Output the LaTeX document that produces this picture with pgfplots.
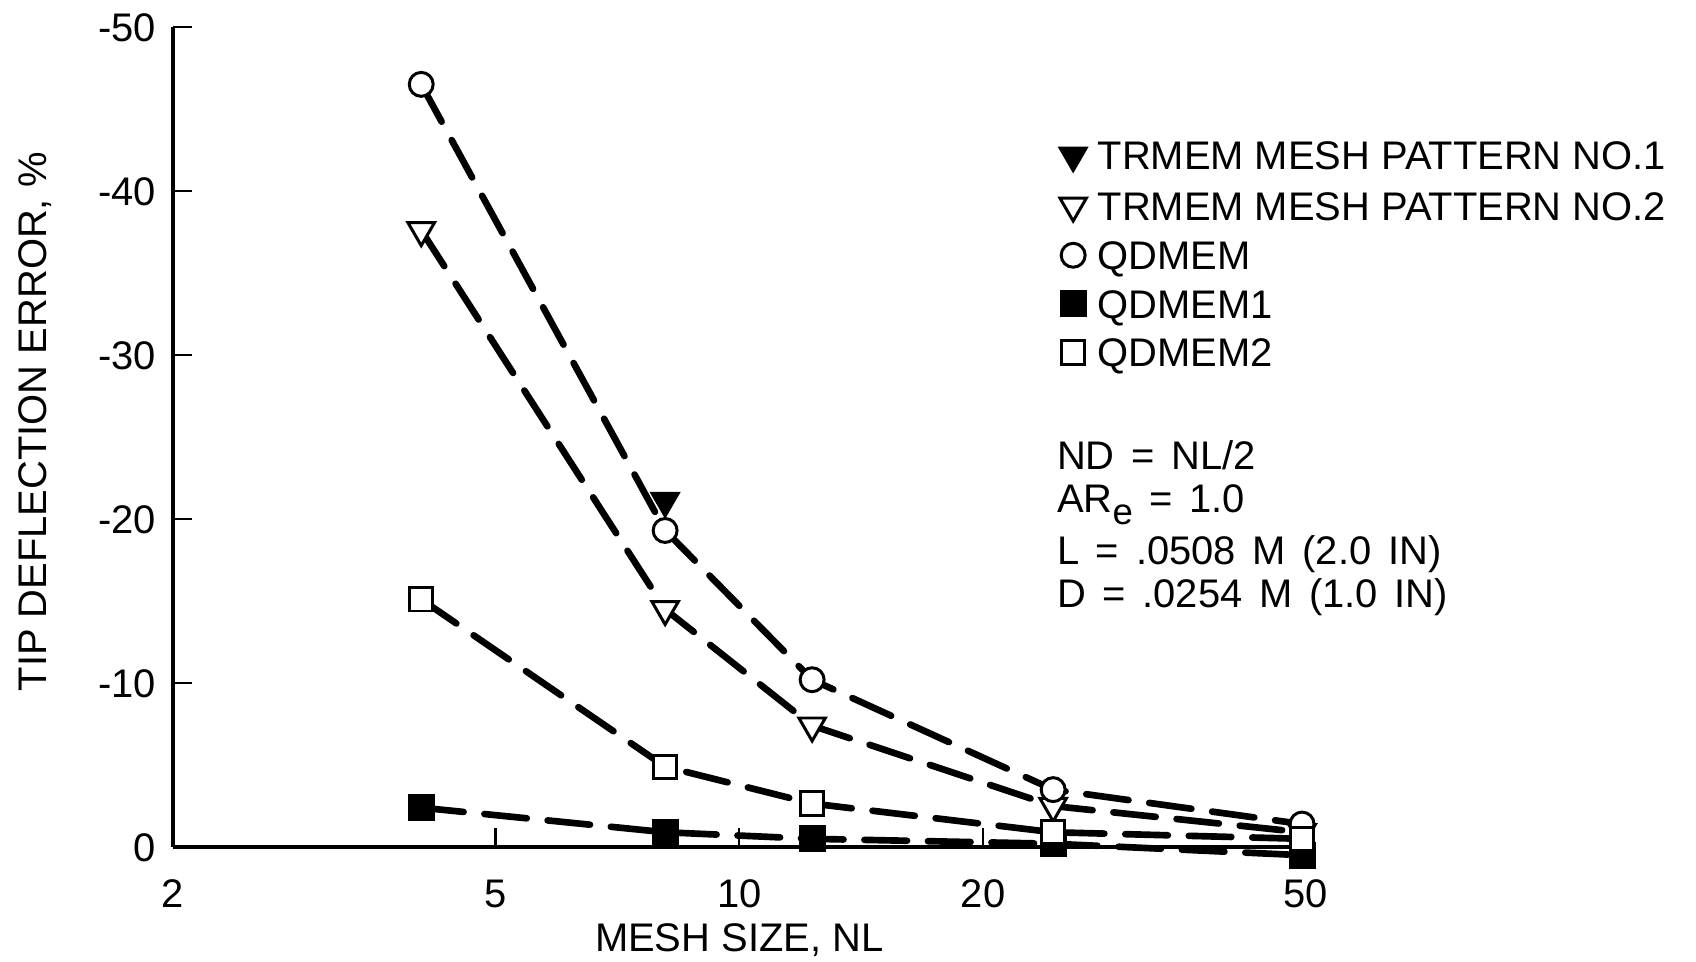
\documentclass[border=0pt]{standalone}
\usepackage{fontspec}
\setmainfont{Liberation Sans}
\usepackage{pgfplots}
\pgfplotsset{compat=1.18}
\newcommand\gap{\hspace{0.42em}}
\begin{document}
\fontsize{12}{14}\selectfont
\begin{tikzpicture}
\useasboundingbox (-52.0pt,-34.5pt) rectangle (458.0pt,254.7pt);
\begin{axis}[
  at={(0pt,0pt)}, anchor=south west,
  scale only axis, width=340.6pt, height=246.6pt,
  xmode=log, xmin=2, xmax=50, ymin=-50, ymax=0, y dir=reverse,
  axis x line*=bottom, axis y line*=left,
  axis line style={line width=1pt},
  tick align=inside, major tick length=5.8pt,
  every tick/.style={black, line width=0.7pt},
  xtick={2,5,10,20,50}, xticklabels={2,5,10,20,50},
  minor xtick={}, xminorticks=false,
  ytick={0,-10,-20,-30,-40,-50}, yticklabels={0,-10,-20,-30,-40,-50},
  tick label style={font=\fontsize{12}{14}\selectfont, inner sep=0pt, text height=8.6pt, text depth=0pt},
  xticklabel style={anchor=north, yshift=-9.4pt},
  yticklabel style={anchor=east, xshift=-4.9pt},
  xlabel={MESH SIZE, NL}, ylabel={TIP DEFLECTION ERROR, \%},
  label style={font=\fontsize{12}{14}\selectfont, inner sep=0pt},
  x label style={at={(axis description cs:0.5,-0.114)}, anchor=center},
  y label style={at={(axis description cs:-0.122,0.5185)}, anchor=center},
  clip=false,
  every axis plot/.append style={black, line width=2pt, line cap=round, dash pattern=on 12.8pt off 6.3pt},
  legend image code/.code={\draw[#1] plot[only marks] coordinates {(0pt,0pt)};},
  legend cell align=left,
  legend style={draw=none, fill=none, at={(axis description cs:0.782,0.8615)}, anchor=north west,
    inner xsep=0pt, inner ysep=0pt, row sep=6pt, font=\fontsize{12}{14}\selectfont,
    nodes={inner sep=0pt, text height=8.6pt, text depth=0pt},
    /tikz/every odd column/.append style={column sep=3.2pt}},
]
% TRMEM mesh pattern no.1
\addplot[only marks, mark=triangle*, mark size=4.8pt, mark options={solid, rotate=180, fill=black, line width=0.6pt}]
  coordinates {(8.1,-21.1)};
\addlegendentry{TRMEM MESH PATTERN NO.1}
% TRMEM mesh pattern no.2
\addplot[mark=triangle*, mark size=4.6pt, mark options={solid, rotate=180, fill=white, line width=0.9pt}]
  coordinates {(4.05,-37.6) (8.1,-14.5) (12.3,-7.4) (24.4,-2.5) (49.5,-0.9)};
\addlegendentry{TRMEM MESH PATTERN NO.2}
% QDMEM
\addplot[mark=*, mark size=3.6pt, mark options={solid, fill=white, line width=0.9pt}]
  coordinates {(4.05,-46.5) (8.1,-19.3) (12.3,-10.2) (24.4,-3.5) (49.5,-1.4)};
\addlegendentry{QDMEM}
% QDMEM1
\addplot[mark=square*, mark size=3.8pt, mark options={solid, fill=black, line width=0.5pt}]
  coordinates {(4.05,-2.4) (8.1,-0.9) (12.3,-0.5) (24.4,-0.2) (49.5,0.5)};
\addlegendentry{QDMEM1}
% QDMEM2
\addplot[mark=square*, mark size=3.5pt, mark options={solid, fill=white, line width=0.9pt}]
  coordinates {(4.05,-15.1) (8.1,-4.9) (12.3,-2.65) (24.4,-0.9) (49.5,-0.5)};
\addlegendentry{QDMEM2}
\node[anchor=base west, inner sep=0pt] at (axis description cs:0.780,0.4604) {ND\gap=\gap NL/2};
\node[anchor=base west, inner sep=0pt] at (axis description cs:0.780,0.4077) {AR\raisebox{-3.5pt}{\fontsize{11}{11}\selectfont e}\gap=\gap 1.0};
\node[anchor=base west, inner sep=0pt] at (axis description cs:0.780,0.3443) {L\gap=\gap.0508\gap M\gap(2.0\gap IN)};
\node[anchor=base west, inner sep=0pt] at (axis description cs:0.780,0.2916) {D\gap=\gap.0254\gap M\gap(1.0\gap IN)};
\end{axis}
\end{tikzpicture}
\end{document}
